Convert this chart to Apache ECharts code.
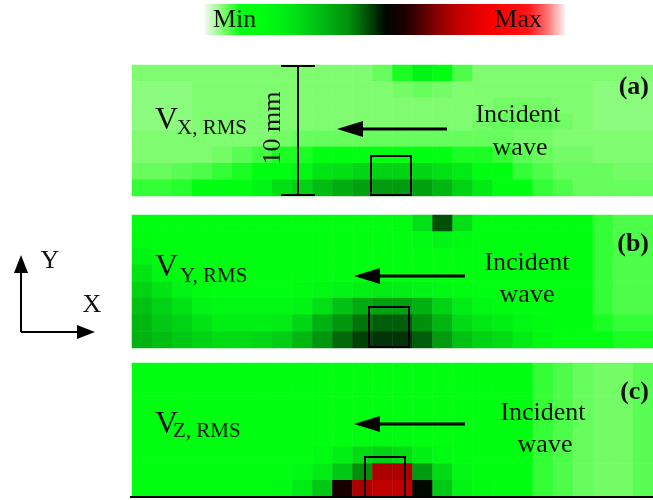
<!DOCTYPE html>
<html><head><meta charset="utf-8">
<script src="https://cdn.jsdelivr.net/npm/echarts@6/dist/echarts.min.js"></script>
<style>html,body{margin:0;padding:0;background:#fff}#c{width:653px;height:500px}</style>
</head><body><div id="c"></div>
<script>
// category indices (columns across, rows top -> bottom)
const cols = [0,1,2,3,4,5,6,7,8,9,10,11,12,13,14,15,16,17,18,19,20,21,22,23,24,25];
const rows = [0,1,2,3,4,5,6,7];

// normalised RMS velocity (0 = Min, 1 = Max)
const panelA = [
 [.05,.05,.05,.05,.05,.05,.05,.05,.05,.05,.05,.05,.06,.09,.2,.11,.07,.05,.05,.05,.05,.05,.05,.05,.05,.05],
 [.045,.045,.045,.05,.05,.05,.05,.05,.05,.05,.05,.05,.05,.055,.06,.055,.05,.05,.05,.05,.05,.05,.05,.045,.045,.045],
 [.045,.045,.045,.05,.05,.05,.05,.05,.05,.05,.05,.05,.05,.05,.05,.05,.05,.05,.055,.055,.055,.05,.05,.045,.045,.045],
 [.045,.045,.045,.05,.05,.05,.05,.05,.05,.05,.05,.05,.05,.05,.05,.05,.05,.055,.06,.06,.06,.055,.05,.045,.045,.045],
 [.05,.05,.05,.05,.05,.05,.05,.055,.06,.06,.06,.06,.06,.06,.06,.06,.06,.06,.06,.055,.055,.05,.05,.05,.05,.05],
 [.05,.05,.05,.05,.055,.065,.075,.09,.09,.10,.10,.10,.10,.10,.10,.10,.09,.09,.08,.065,.06,.055,.055,.05,.05,.05],
 [.06,.06,.065,.07,.08,.09,.13,.15,.18,.24,.25,.27,.28,.28,.27,.25,.22,.15,.12,.08,.07,.06,.06,.06,.055,.055],
 [.08,.08,.085,.10,.11,.13,.2,.25,.28,.32,.35,.37,.38,.38,.37,.33,.28,.22,.13,.1,.08,.07,.06,.06,.06,.06]
];
const panelB = [
 [.15,.15,.15,.15,.15,.15,.15,.15,.15,.15,.15,.15,.15,.16,.25,.45,.25,.15,.15,.15,.14,.12,.10,.08,.07,.07],
 [.16,.15,.15,.15,.15,.15,.15,.15,.15,.15,.15,.15,.15,.15,.17,.2,.17,.15,.15,.15,.14,.12,.10,.08,.07,.07],
 [.2,.16,.15,.15,.15,.15,.15,.15,.15,.15,.15,.15,.15,.15,.15,.15,.15,.15,.15,.15,.14,.12,.10,.08,.07,.07],
 [.24,.19,.16,.15,.15,.15,.15,.15,.15,.15,.15,.15,.15,.15,.15,.15,.15,.15,.15,.15,.14,.12,.10,.08,.07,.07],
 [.28,.24,.2,.16,.15,.15,.15,.15,.16,.18,.2,.21,.22,.21,.2,.18,.16,.15,.15,.15,.14,.12,.10,.08,.07,.07],
 [.31,.28,.24,.2,.18,.18,.18,.18,.2,.25,.31,.35,.37,.37,.34,.28,.22,.18,.16,.15,.14,.12,.10,.08,.07,.07],
 [.33,.3,.28,.24,.21,.21,.21,.22,.27,.34,.39,.42,.44,.44,.4,.33,.26,.23,.21,.18,.16,.13,.11,.09,.08,.08],
 [.34,.32,.3,.28,.26,.26,.27,.29,.33,.39,.43,.46,.47,.47,.44,.38,.31,.28,.26,.22,.18,.15,.12,.10,.09,.09]
];
const panelC = [
 [.12,.12,.13,.15,.15,.15,.15,.15,.15,.15,.15,.15,.15,.15,.15,.15,.15,.14,.12,.10,.08,.07,.06,.055,.055,.065],
 [.12,.12,.13,.15,.15,.15,.15,.15,.15,.15,.15,.15,.15,.15,.15,.15,.15,.14,.12,.10,.08,.07,.06,.055,.055,.065],
 [.12,.12,.13,.15,.15,.15,.15,.15,.15,.15,.15,.15,.15,.15,.15,.15,.15,.14,.12,.10,.08,.07,.06,.055,.055,.065],
 [.12,.12,.13,.15,.15,.15,.15,.15,.15,.15,.15,.15,.15,.15,.15,.15,.15,.14,.12,.10,.08,.07,.06,.055,.055,.065],
 [.12,.12,.13,.15,.15,.15,.15,.15,.15,.15,.15,.16,.17,.16,.15,.15,.15,.14,.12,.10,.08,.07,.06,.055,.055,.065],
 [.12,.12,.13,.15,.15,.15,.15,.15,.15,.17,.21,.26,.28,.26,.21,.17,.15,.14,.12,.10,.08,.07,.06,.055,.055,.065],
 [.12,.12,.13,.15,.15,.15,.15,.15,.17,.22,.3,.4,.68,.68,.38,.26,.18,.15,.12,.10,.08,.07,.06,.055,.055,.065],
 [.12,.12,.13,.15,.15,.15,.15,.17,.22,.3,.55,.68,.7,.7,.5,.3,.2,.16,.13,.10,.08,.07,.06,.055,.055,.065]
];
const panelTitles = ['(a)','(b)','(c)'];
const componentLabels = ['X, RMS','Y, RMS','Z, RMS'];

function toCells(m){ const out=[]; m.forEach((row,r)=>row.forEach((v,c)=>out.push([cols[c],rows[r],v]))); return out; }

const colorStops = ['#f2f8f2','#80fc70','#00ff10','#00ff10','#00f414','#00e014','#00c814','#00ac10','#00900c','#005008',
  '#000800','#180000','#500000','#900000','#c00000','#e00000','#f80000','#ff0808','#ff1818','#ff7070','#fff2f2'];

const grids = [
  {left:132, top:65, width:521, height:131},
  {left:132, top:215, width:521, height:133},
  {left:132, top:363, width:521, height:134}
];
const FONT = 'Liberation Serif';
function txt(text, x, y, size, align, valign, extra){
  return Object.assign({type:'text', z:100, style:{text, x, y, fill:'#111', font: (extra&&extra.bold?'bold ':'')+size+'px "'+FONT+'"',
    textAlign:align, textVerticalAlign:valign, align:align, verticalAlign:valign}}, extra&&extra.el||{});
}
function line(x1,y1,x2,y2,w){ return {type:'line', z:100, shape:{x1,y1,x2,y2}, style:{stroke:'#000', lineWidth:w||2}}; }
function tri(pts){ return {type:'polygon', z:100, shape:{points:pts}, style:{fill:'#000'}}; }
function box(x,y,w,h){ return {type:'rect', z:100, shape:{x,y,width:w,height:h}, style:{fill:'none', stroke:'#000', lineWidth:2}}; }

const graphic = [
  txt('Min',213,20,26,'left','middle'),
  txt('Max',542,20,26,'right','middle'),
  line(298,66,298,195,2), line(281,66,315,66,2), line(281,195,315,195,2),
  {type:'text', z:100, x:273, y:128, rotation:Math.PI/2, style:{text:'10 mm', x:0, y:0, fill:'#111', font:'26px "'+FONT+'"', textAlign:'center', textVerticalAlign:'middle', align:'center', verticalAlign:'middle'}},
  line(447,129,360,129,3), tri([[337,129],[363,121],[363,137]]),
  line(465,276,375,276,3), tri([[354,276],[380,268],[380,284]]),
  line(465,424,375,424,3), tri([[354,424],[380,416],[380,432]]),
  txt('Incident',518,115,26,'center','middle'), txt('wave',520,148,26,'center','middle'),
  txt('Incident',527,263,26,'center','middle'), txt('wave',527,295,26,'center','middle'),
  txt('Incident',543,413,26,'center','middle'), txt('wave',545,445,26,'center','middle'),
  txt('V',155,121,32,'left','middle'), txt(componentLabels[0],177,128,21,'left','middle'),
  txt('V',155,268,32,'left','middle'), txt(componentLabels[1],180,276,21,'left','middle'),
  txt('V',155,425,32,'left','middle'), txt(componentLabels[2],173,431,21,'left','middle'),
  txt(panelTitles[0],649,87,26,'right','middle',{bold:true}),
  txt(panelTitles[1],649,244,26,'right','middle',{bold:true}),
  txt(panelTitles[2],649,392,26,'right','middle',{bold:true}),
  box(371,156,40,39), box(369,307,40,40), box(365,457,40,40),
  line(130,497,653,497,2),
  line(21,332,21,270,2), tri([[21,255],[14,273],[28,273]]),
  line(21,332,80,332,2), tri([[95,332],[77,325],[77,339]]),
  txt('Y',50,261,26,'center','middle'), txt('X',92,305,26,'center','middle')
];

const chart = echarts.init(document.getElementById('c'), null, {renderer:'canvas'});
chart.setOption({
  animation:false,
  grid: grids,
  xAxis: grids.map((g,i)=>({type:'category', gridIndex:i, data:cols, show:false})),
  yAxis: grids.map((g,i)=>({type:'category', gridIndex:i, data:rows, inverse:true, show:false})),
  visualMap: {type:'continuous', min:0, max:1, seriesIndex:[0,1,2], orient:'horizontal', left:205, top:4,
    itemWidth:31, itemHeight:360, padding:0, calculable:false, hoverLink:false, showLabel:false,
    inRange:{color:colorStops}},
  series: [panelA,panelB,panelC].map((m,i)=>({type:'heatmap', xAxisIndex:i, yAxisIndex:i, data:toCells(m),
    emphasis:{disabled:true}, progressive:0})),
  graphic: graphic
});
</script></body></html>
